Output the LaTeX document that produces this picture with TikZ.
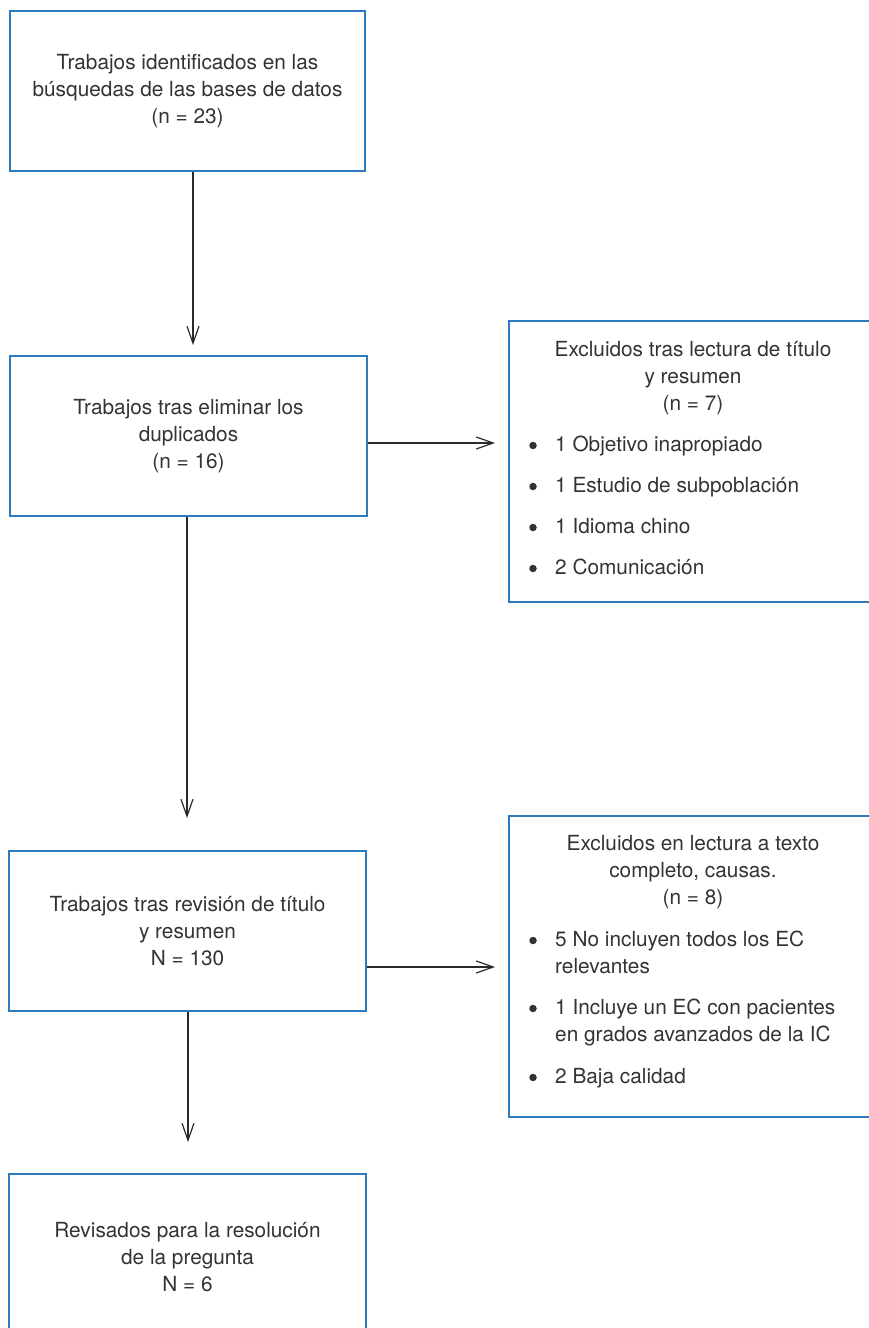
\documentclass[tikz,border=0pt]{standalone}
\usepackage{fontspec}
\setmainfont{TeX Gyre Heros}
\usetikzlibrary{arrows.meta}
\definecolor{boxblue}{HTML}{2E7CBF}
\definecolor{txt}{HTML}{333333}
\definecolor{linec}{HTML}{2A2A2A}
\begin{document}
\begin{tikzpicture}[x=1pt,y=-1pt,
  font=\fontsize{20.8}{27}\selectfont, text=txt,
  box/.style={draw=boxblue, line width=1.5pt, align=center, inner sep=0pt},
  arr/.style={draw=linec, line width=1.2pt, -{Straight Barb[length=17pt,width=12pt]}},
  hdr/.style={align=center, inner sep=0pt},
  itm/.style={anchor=base west, inner sep=0pt},
  dot/.style={circle, fill=txt, draw=none, inner sep=0pt, minimum size=7.5pt}]
\useasboundingbox (0,0) rectangle (869,1328);
\clip (0,0) rectangle (869,1328);
\fill[white] (0,0) rectangle (869,1328);

% main column
\node[box, minimum width=355pt, minimum height=160pt] (b1) at (187.5,91)
  {Trabajos identificados en las\\búsquedas de las bases de datos\\(n = 23)};
\node[box, minimum width=357pt, minimum height=160pt] (b2) at (188.5,436)
  {Trabajos tras eliminar los\\duplicados\\(n = 16)};
\node[box, minimum width=357pt, minimum height=160pt] (b3) at (187.5,931)
  {Trabajos tras revisión de título\\y resumen\\N = 130};
\node[box, minimum width=357pt, minimum height=166pt] (b4) at (187.5,1257)
  {Revisados para la resolución\\de la pregunta\\N = 6};

% exclusion boxes
\node[box, minimum width=368pt, minimum height=281pt] (e1) at (693,461.5) {};
\node[hdr] (e1h) at (693,378) {Excluidos tras lectura de título\\y resumen\\(n = 7)};
\node[dot] (e1d1) at (533,445.5) {};
\node[itm] (e1t1) at (555,451) {1 Objetivo inapropiado};
\node[dot] (e1d2) at (533,486.5) {};
\node[itm] (e1t2) at (555,492) {1 Estudio de subpoblación};
\node[dot] (e1d3) at (533,527.5) {};
\node[itm] (e1t3) at (555,533) {1 Idioma chino};
\node[dot] (e1d4) at (533,568.5) {};
\node[itm] (e1t4) at (555,574) {2 Comunicación};

\node[box, minimum width=368pt, minimum height=301pt] (e2) at (693,966.5) {};
\node[hdr] (e2h) at (693,872) {Excluidos en lectura a texto\\completo, causas.\\(n = 8)};
\node[dot] (e2d1) at (533,940.5) {};
\node[itm] (e2t1) at (555,946) {5 No incluyen todos los EC};
\node[itm] (e2t1b) at (555,973) {relevantes};
\node[dot] (e2d2) at (533,1008.5) {};
\node[itm] (e2t2) at (555,1014) {1 Incluye un EC con pacientes};
\node[itm] (e2t2b) at (555,1041) {en grados avanzados de la IC};
\node[dot] (e2d3) at (533,1077.5) {};
\node[itm] (e2t3) at (555,1083) {2 Baja calidad};

% connectors
\coordinate (t1) at (193,345);
\coordinate (t2) at (187,818);
\coordinate (t3) at (188,1142);
\coordinate (t4) at (495,443);
\coordinate (t5) at (495,967);
\draw[arr] (t1 |- b1.south) -- (t1);
\draw[arr] (t2 |- b2.south) -- (t2);
\draw[arr] (t3 |- b3.south) -- (t3);
\draw[arr] (b2.east |- t4) -- (t4);
\draw[arr] (b3.east |- t5) -- (t5);
\end{tikzpicture}
\end{document}
